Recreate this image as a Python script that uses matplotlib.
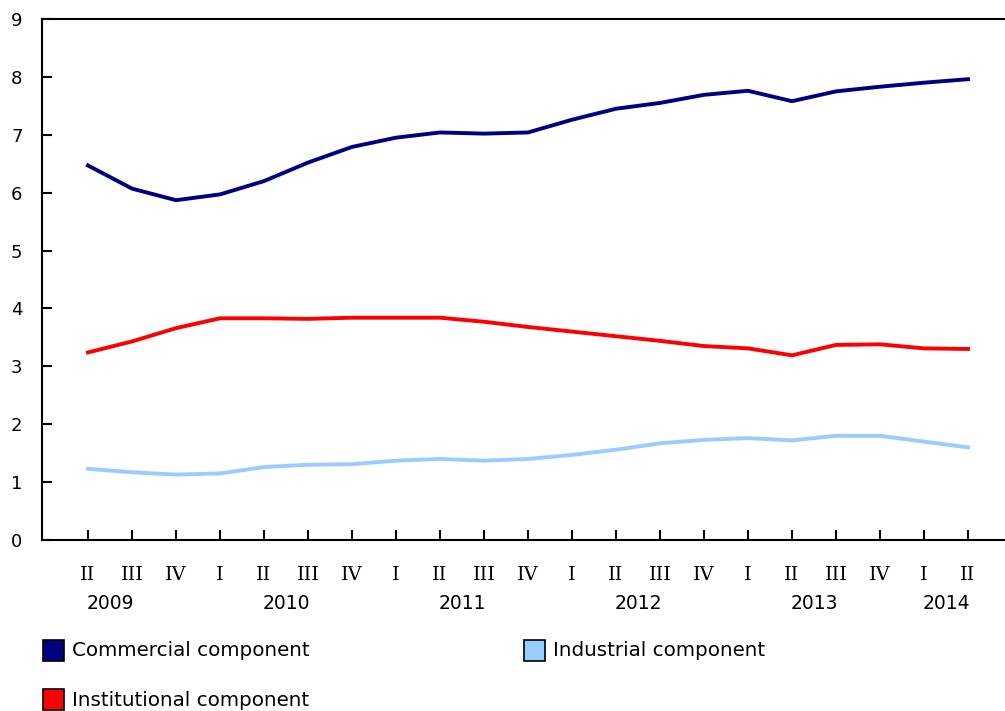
import matplotlib.pyplot as plt
from matplotlib.patches import Rectangle

# Quarters from 2009 Q2 to 2014 Q2
quarters = ["II", "III", "IV", "I", "II", "III", "IV", "I", "II", "III", "IV",
            "I", "II", "III", "IV", "I", "II", "III", "IV", "I", "II"]
years = ["2009", "2010", "2011", "2012", "2013", "2014"]
year_pos = [0.5, 4.5, 8.5, 12.5, 16.5, 19.5]

commercial = [6.47, 6.07, 5.87, 5.97, 6.20, 6.52, 6.79, 6.95, 7.04, 7.02, 7.04,
              7.26, 7.45, 7.55, 7.69, 7.76, 7.58, 7.75, 7.83, 7.90, 7.96]
institutional = [3.24, 3.43, 3.66, 3.83, 3.83, 3.82, 3.84, 3.84, 3.84, 3.77, 3.68,
                 3.60, 3.52, 3.44, 3.35, 3.31, 3.19, 3.37, 3.38, 3.31, 3.30]
industrial = [1.23, 1.17, 1.13, 1.15, 1.26, 1.30, 1.31, 1.37, 1.40, 1.37, 1.40,
              1.47, 1.56, 1.67, 1.73, 1.76, 1.72, 1.80, 1.80, 1.70, 1.60]

c_com = "#000080"
c_ind = "#99ccff"
c_ins = "#ff0000"

fig = plt.figure(figsize=(10.05, 7.11), dpi=100)
ax = fig.add_axes([42 / 1005, 171 / 711, 1 - 42 / 1005, 521 / 711])

x = list(range(len(quarters)))
ax.plot(x, commercial, color=c_com, lw=2.8)
ax.plot(x, industrial, color=c_ind, lw=2.8)
ax.plot(x, institutional, color=c_ins, lw=2.8)

ax.set_xlim(-46 / 44, 20 + 37 / 44)
ax.set_ylim(0, 9)
ax.set_yticks(range(10))
ax.set_xticks(x)
ax.set_xticklabels(quarters, family="DejaVu Serif", fontsize=14)
ax.tick_params(axis="both", direction="in", length=7, width=1.5, colors="black")
ax.tick_params(axis="y", labelsize=13, pad=14)
ax.tick_params(axis="x", pad=19)

for s in ["left", "top", "bottom"]:
    ax.spines[s].set_linewidth(1.5)
ax.spines["right"].set_visible(False)

for yr, p in zip(years, year_pos):
    ax.text(p, -1.1, yr, ha="center", va="center", fontsize=13.5, clip_on=False)

# legend
entries = [("Commercial component", c_com, 43, 640),
           ("Industrial component", c_ind, 524, 640),
           ("Institutional component", c_ins, 43, 689)]
for label, col, px, py in entries:
    fig.patches.append(Rectangle((px / 1005, 1 - (py + 21) / 711), 21 / 1005, 21 / 711,
                                 transform=fig.transFigure, facecolor=col,
                                 edgecolor="black", lw=1.2))
    fig.text((px + 29) / 1005, 1 - (py + 11) / 711, label, fontsize=14.3, va="center")

fig.savefig("out.png", dpi=100)
